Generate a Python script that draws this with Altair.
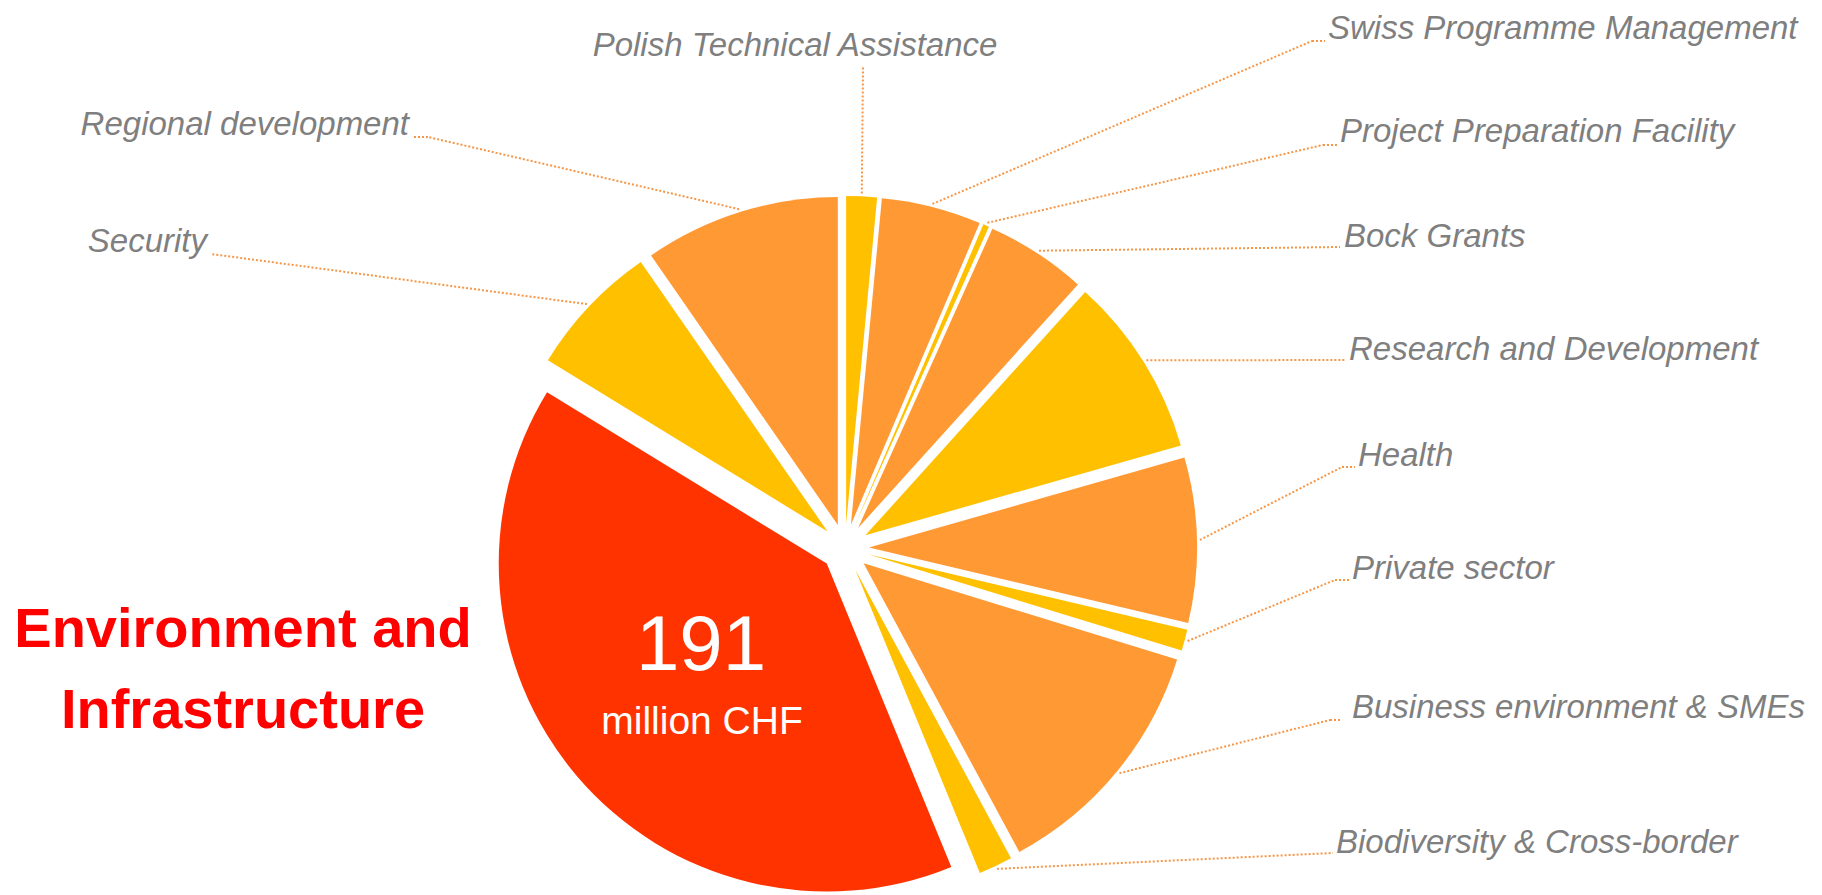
import math
import altair as alt
import pandas as pd

# ---------------- data ----------------
categories = [
    "Polish Technical Assistance",
    "Swiss Programme Management",
    "Project Preparation Facility",
    "Bock Grants",
    "Research and Development",
    "Health",
    "Private sector",
    "Business environment & SMEs",
    "Biodiversity & Cross-border",
    "Environment and Infrastructure",
    "Security",
    "Regional development",
]
values = [7.2, 23.5, 1.4, 23.8, 42.5, 38.8, 5.0, 59.2, 8.0, 191.0, 31.6, 46.1]
tones = ["yellow", "orange", "yellow", "orange", "yellow", "orange",
         "yellow", "orange", "yellow", "red", "yellow", "orange"]
unit_label = "million CHF"

# ---------------- layout (pixels) ----------------
label_x = [795, 1328, 1340, 1344, 1349, 1358, 1352, 1352, 1336, None, 207, 409]
label_y = [56, 39, 142, 247, 360, 466, 579, 718, 853, None, 252, 135]
label_align = ["center", "left", "left", "left", "left", "left", "left", "left",
               "left", "none", "right", "right"]
elbow_x = [863, 1312, 1323, 1340, 1345, 1342, 1335, 1330, 1333, None, 211, 428]
elbow_y = [67, 41, 145, 247, 360, 467, 580, 720, 853, None, 254, 137]
hook_x = [863, 1325, 1337, 1340, 1345, 1355, 1349, 1342, 1333, None, 211, 414]

CX, CY = 845, 548      # pie centre
R = 328                # pie radius
EXPL = 24              # explode distance of each slice
LEAD = 355             # where leader lines start
TOTAL = sum(values)

RED, ORANGE, YELLOW = "#FF3300", "#FF9933", "#FFC000"
LINE = "#F79646"
GREY = "#7F7F7F"
FONT = "Liberation Sans, Arial"

df = pd.DataFrame({
    "category": categories,
    "value": values,
    "tone": tones,
    "order": list(range(len(categories))),
    "tx": label_x, "ty": label_y, "align": label_align,
    "ex": elbow_x, "ey": elbow_y, "hx": hook_x,
})

base = (
    alt.Chart(df)
    .transform_window(cum="sum(value)", sort=[alt.SortField("order")], frame=[None, 0])
    .transform_calculate(
        start="datum.cum - datum.value",
        mid=f"2*PI*(datum.cum - datum.value/2)/{TOTAL}",
    )
    .transform_calculate(
        px=f"{CX} + {EXPL}*sin(datum.mid)",
        py=f"{CY} - {EXPL}*cos(datum.mid)",
        sx=f"{CX} + {LEAD}*sin(datum.mid)",
        sy=f"{CY} - {LEAD}*cos(datum.mid)",
    )
)

X = lambda f: alt.X(f, type="quantitative", scale=None, axis=None)
Y = lambda f: alt.Y(f, type="quantitative", scale=None, axis=None)

pie = base.mark_arc(outerRadius=R).encode(
    theta=alt.Theta("start:Q", scale=alt.Scale(domain=[0, TOTAL], range=[0, 2 * math.pi])),
    theta2="cum:Q",
    x=X("px"),
    y=Y("py"),
    color=alt.Color("tone:N", scale=alt.Scale(domain=["red", "orange", "yellow"],
                                              range=[RED, ORANGE, YELLOW]), legend=None),
)

labelled = base.transform_filter("isValid(datum.tx)")

lead1 = labelled.mark_rule(color=LINE, strokeWidth=2, strokeDash=[2, 2]).encode(
    x=X("sx"), y=Y("sy"), x2="ex:Q", y2="ey:Q"
)
lead2 = labelled.mark_rule(color=LINE, strokeWidth=2, strokeDash=[2, 2]).encode(
    x=X("ex"), y=Y("ey"), x2="hx:Q", y2="ey:Q"
)

def label_layer(al):
    return labelled.transform_filter(f"datum.align == '{al}'").mark_text(
        align=al, baseline="alphabetic", font=FONT, fontSize=33,
        fontStyle="italic", color=GREY
    ).encode(x=X("tx"), y=Y("ty"), text="category:N")

red_only = base.transform_filter("datum.tone == 'red'")

title = red_only.transform_calculate(
    t="replace(datum.category, 'and ', 'and\\n')"
).mark_text(
    align="center", baseline="alphabetic", font=FONT, fontSize=56,
    fontWeight="bold", color="#FF0000", lineBreak="\n", lineHeight=81
).encode(x=alt.value(243), y=alt.value(647), text="t:N")

number = red_only.mark_text(
    align="center", baseline="alphabetic", font=FONT, fontSize=78, color="white"
).encode(x=alt.value(701), y=alt.value(670), text=alt.Text("value:Q", format=".0f"))

unit = red_only.transform_calculate(u=f"'{unit_label}'").mark_text(
    align="center", baseline="alphabetic", font=FONT, fontSize=39, color="white"
).encode(x=alt.value(702), y=alt.value(734), text="u:N")

chart = alt.layer(
    pie, lead1, lead2,
    label_layer("left"), label_layer("center"), label_layer("right"),
    title, number, unit,
).properties(
    width=1822, height=895, autosize=alt.AutoSizeParams(type="none"), padding=0,
    background="white",
).configure_view(stroke=None)

chart.save("out.html", embed_options={"renderer": "svg", "actions": False})
